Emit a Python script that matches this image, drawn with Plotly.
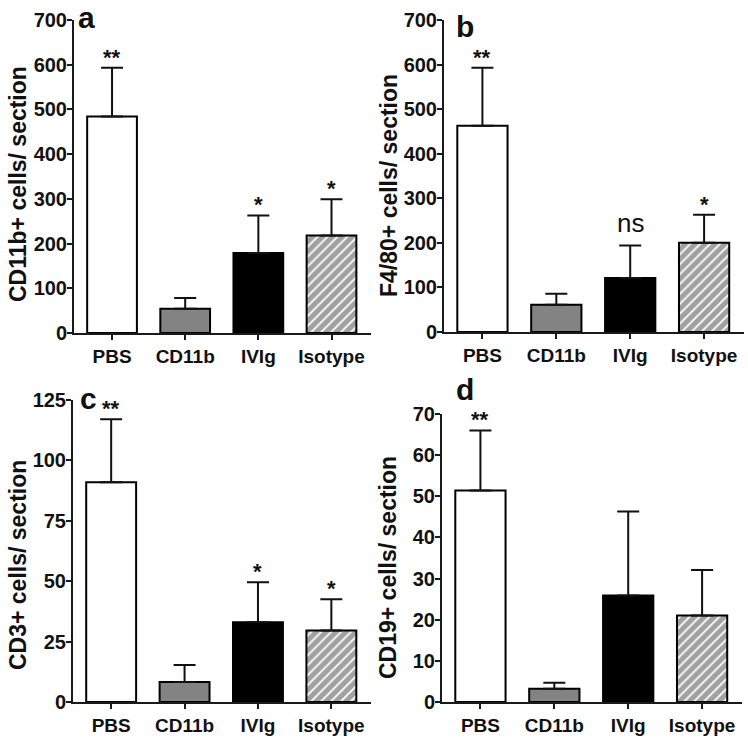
import plotly.graph_objects as go

W, H = 748, 745

categories = ["PBS", "CD11b", "IVIg", "Isotype"]

cd11b_mean = [484, 54, 179, 218]
cd11b_err = [109, 24, 84, 81]
f480_mean = [463, 61, 121, 200]
f480_err = [130, 25, 73, 63]
cd3_mean = [91, 8.3, 33, 29.6]
cd3_err = [26, 7, 16.6, 12.9]
cd19_mean = [51.4, 3.2, 25.9, 21.0]
cd19_err = [14.6, 1.5, 20.4, 11.1]

y_titles = ["CD11b+ cells/ section", "F4/80+ cells/ section",
            "CD3+ cells/ section", "CD19+ cells/ section"]
panel_letters = ["a", "b", "c", "d"]
y_ranges = [[0, 700], [0, 700], [0, 125], [0, 70]]
y_dticks = [100, 100, 25, 10]
sig_marks = [["**", "", "*", "*"], ["**", "", "ns", "*"],
             ["**", "", "*", "*"], ["**", "", "", ""]]

means = [cd11b_mean, f480_mean, cd3_mean, cd19_mean]
errs = [cd11b_err, f480_err, cd3_err, cd19_err]

# pixel boxes of each plot area: (left, right, top, bottom)
boxes = [(74, 371, 20, 333), (444, 744, 20, 332),
         (73, 371, 400, 702), (442, 742, 414, 702)]
title_pos = [(18, 184), (389, 186), (18, 565), (388, 568)]
letter_pos = [(78, 28), (456, 37), (80, 409), (456, 400)]


def px(x):
    return x / W


def py(y):
    return 1 - y / H


fill_colors = ["white", "#838383", "black", "white"]
patterns = ["", "", "", "/"]

FONT = "Liberation Sans, Arial, sans-serif"
AX = "#1a1a1a"

fig = go.Figure()
annotations = []
layout_axes = {}

for i in range(4):
    l, r, t, b = boxes[i]
    xa = "x" if i == 0 else f"x{i+1}"
    ya = "y" if i == 0 else f"y{i+1}"
    xkey = "xaxis" if i == 0 else f"xaxis{i+1}"
    ykey = "yaxis" if i == 0 else f"yaxis{i+1}"
    fig.add_trace(go.Bar(
        x=categories, y=means[i], xaxis=xa, yaxis=ya,
        width=0.68,
        marker=dict(color=fill_colors, line=dict(color="black", width=2),
                    pattern=dict(shape=patterns, fgcolor="black", bgcolor="white",
                                 size=7, solidity=0.75)),
        error_y=dict(type="data", symmetric=False, array=errs[i],
                     arrayminus=[0, 0, 0, 0], color="#111", thickness=2, width=11),
        showlegend=False, hoverinfo="skip",
    ))
    layout_axes[xkey] = dict(
        domain=[px(l), px(r)], anchor=ya, range=[-0.52, 3.54],
        showline=True, linecolor=AX, linewidth=2, ticks="outside",
        ticklen=5, tickwidth=2, tickcolor=AX, showgrid=False, zeroline=False,
        tickfont=dict(family=FONT, size=19, color="#111", weight="bold"),
        automargin=False, fixedrange=True,
    )
    layout_axes[ykey] = dict(
        domain=[py(b), py(t)], anchor=xa, range=y_ranges[i],
        dtick=y_dticks[i], tick0=0,
        showline=True, linecolor=AX, linewidth=2, ticks="outside",
        ticklen=5, tickwidth=2, tickcolor=AX, showgrid=False, zeroline=False,
        tickfont=dict(family=FONT, size=20, color="#111", weight="bold"),
        ticklabelstandoff=-4,
        automargin=False, fixedrange=True,
    )
    tx, ty = title_pos[i]
    annotations.append(dict(
        text=y_titles[i], xref="paper", yref="paper", x=px(tx), y=py(ty),
        xanchor="center", yanchor="middle", textangle=-90, showarrow=False,
        font=dict(family=FONT, size=23, color="#111", weight="bold"),
    ))
    lx, ly = letter_pos[i]
    annotations.append(dict(
        text=panel_letters[i], xref="paper", yref="paper", x=px(lx - 2), y=py(ly + 8),
        xanchor="left", yanchor="bottom", showarrow=False,
        font=dict(family=FONT, size=30, color="#111", weight="bold"),
    ))
    for j, mark in enumerate(sig_marks[i]):
        if not mark:
            continue
        top = means[i][j] + errs[i][j]
        if mark == "ns":
            annotations.append(dict(
                text=mark, xref=xa, yref=ya, x=categories[j], y=top,
                xanchor="center", yanchor="bottom", yshift=6, showarrow=False,
                font=dict(family=FONT, size=26, color="#111"),
            ))
        else:
            annotations.append(dict(
                text=mark, xref=xa, yref=ya, x=categories[j], y=top,
                xanchor="center", yanchor="bottom", yshift=-4, showarrow=False,
                font=dict(family=FONT, size=22, color="#111", weight="bold"),
            ))

fig.update_layout(
    width=W, height=H, margin=dict(l=0, r=0, t=0, b=0, autoexpand=False),
    paper_bgcolor="white", plot_bgcolor="white",
    bargap=0.32, annotations=annotations, **layout_axes,
)

fig.write_html(
    "out.html",
    config={"displayModeBar": False},
    post_script="document.body.style.margin='0';document.body.style.overflow='hidden';",
)
